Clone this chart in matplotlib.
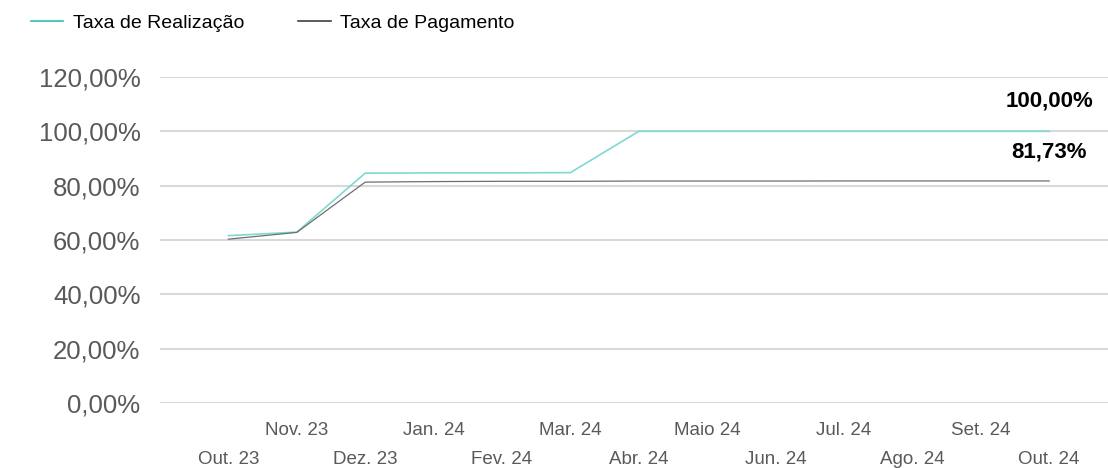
import matplotlib.pyplot as plt

meses = ['Out. 23', 'Nov. 23', 'Dez. 23', 'Jan. 24', 'Fev. 24', 'Mar. 24', 'Abr. 24',
         'Maio 24', 'Jun. 24', 'Jul. 24', 'Ago. 24', 'Set. 24', 'Out. 24']
realizacao = [61.6, 62.9, 84.6, 84.7, 84.7, 84.8, 100.0, 100.0, 100.0, 100.0, 100.0, 100.0, 100.0]
pagamento = [60.3, 62.8, 81.3, 81.5, 81.6, 81.6, 81.7, 81.7, 81.7, 81.73, 81.73, 81.73, 81.73]
yticks = [0, 20, 40, 60, 80, 100, 120]

plt.rcParams['font.family'] = ['Liberation Sans', 'DejaVu Sans']

fig = plt.figure(figsize=(11.08, 4.68), dpi=100)
ax = fig.add_axes([0.1444, 0.1389, 0.8556, 0.6966])

x = list(range(len(meses)))
ax.plot(x, realizacao, color='#7fd9d1', lw=1.2, label='Taxa de Realização')
ax.plot(x, pagamento, color='#6e6e6e', lw=0.9, label='Taxa de Pagamento')

ax.set_xlim(-1, 12.86)
ax.set_ylim(0, 120)
ax.set_yticks(yticks)
ax.set_yticklabels(['{:.2f}%'.format(v).replace('.', ',') for v in yticks])
ax.grid(axis='y', color='#d9d9d9', lw=1.5)
ax.set_axisbelow(True)
for s in ax.spines.values():
    s.set_visible(False)

ax.set_xticks(x)
ax.set_xticklabels([('\n' + m) if i % 2 == 0 else m for i, m in enumerate(meses)])
ax.tick_params(axis='x', length=0, labelsize=13.5, labelcolor='#595959', pad=13.5)
ax.tick_params(axis='y', length=0, labelsize=18.5, labelcolor='#595959', pad=14)
for lbl in ax.get_xticklabels():
    lbl.set_linespacing(1.95)

# rótulos do último ponto
ax.annotate('100,00%', (x[-1], realizacao[-1]), xytext=(32, 22), textcoords='offset points',
            ha='right', va='center', fontsize=16, fontweight='bold', color='black')
ax.annotate('81,73%', (x[-1], pagamento[-1]), xytext=(27, 21), textcoords='offset points',
            ha='right', va='center', fontsize=16, fontweight='bold', color='black')

fig.legend(loc='upper left', bbox_to_anchor=(0.012, 1.006), ncol=2, frameon=False,
           fontsize=14, handlelength=1.65, columnspacing=2.8, handletextpad=0.5)
leg = fig.legends[0]
for line in leg.get_lines():
    line.set_linewidth(1.2)
leg.get_lines()[0].set_color('#2fbfb2')
leg.get_lines()[1].set_color('#404040')

fig.savefig('out.png', dpi=100)
